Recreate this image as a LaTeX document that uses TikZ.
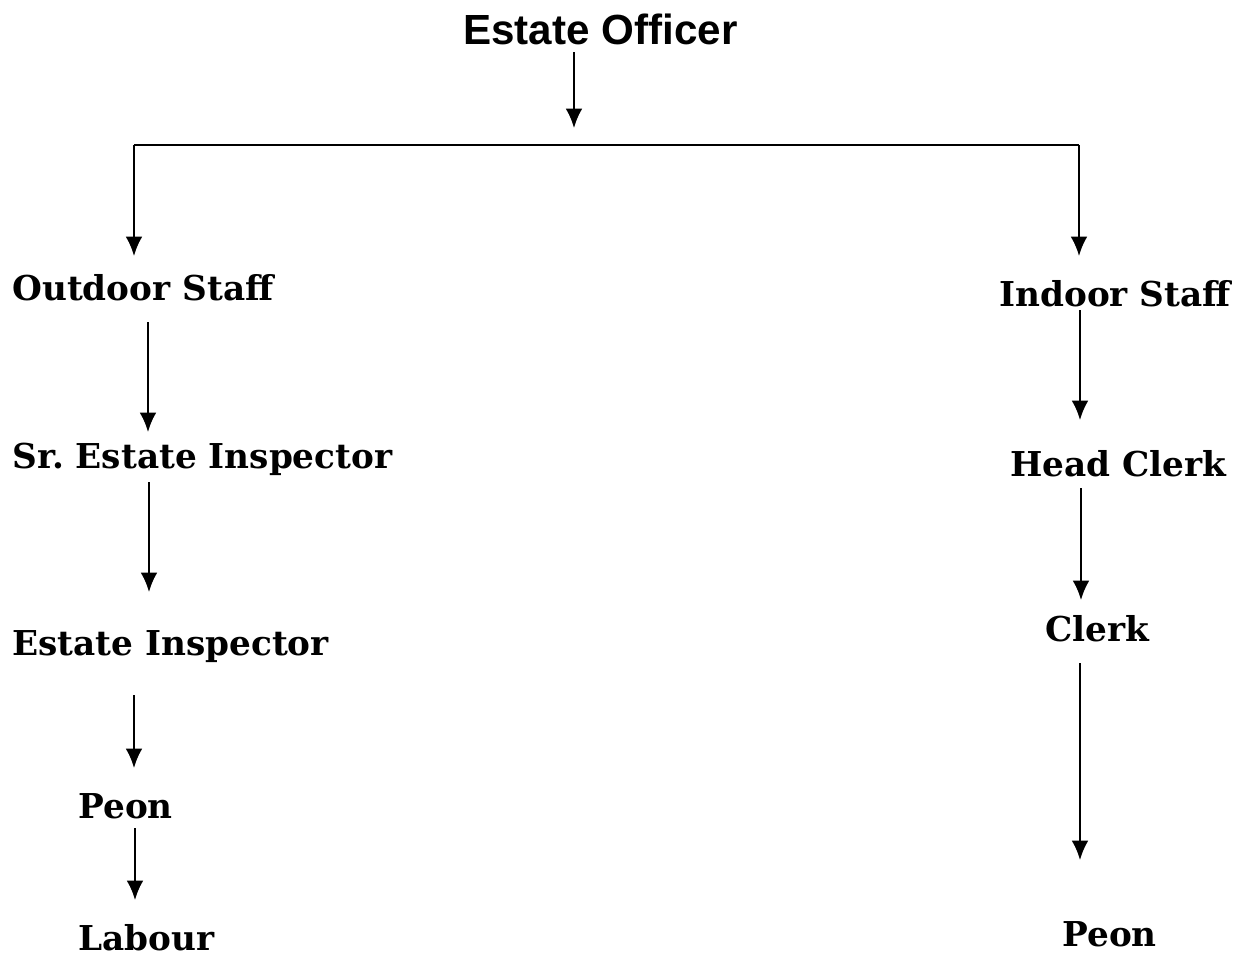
\documentclass[tikz,border=0pt]{standalone}
\usepackage{fontspec}
\setmainfont{DejaVu Serif}
\newfontfamily\headfont{Liberation Sans}
\usetikzlibrary{arrows.meta}
\frenchspacing

\begin{document}
\begin{tikzpicture}[
    x=0.02cm, y=-0.02cm,
    >={Latex[length=11pt, width=9.5pt]},
    post/.style={anchor=base west, inner sep=0pt, font=\bfseries\fontsize{19.5}{22}\selectfont},
    arr/.style={->, line width=1.2pt}
]

    % Frame
    \useasboundingbox (0,0) rectangle (1245,957);

    % 1. Head
    \node[anchor=base west, inner sep=0pt, font=\headfont\bfseries\fontsize{24}{28}\selectfont] (officer) at (463,44) {Estate Officer};
    \coordinate (topA) at (574,52);
    \coordinate (topB) at (574,128);
    \draw[arr] (topA) -- (topB);

    % Branch line
    \coordinate (brL) at (134,145);
    \coordinate (brR) at (1079,145);
    \coordinate (tipL) at (134,256);
    \coordinate (tipR) at (1079,256);
    \draw[line width=1.2pt] (tipL |- brL) -- (brR);
    \draw[arr] (brL) -- (tipL);
    \draw[arr] (brR) -- (tipR);

    % 2. Outdoor side
    \node[post] (outdoor) at (12,300) {Outdoor Staff};
    \node[post] (srinsp) at (12,468) {Sr. Estate Inspector};
    \node[post] (insp) at (12,655) {Estate Inspector};
    \node[post] (peonL) at (78,818) {Peon};
    \node[post] (labour) at (78,950) {Labour};

    % 3. Indoor side
    \node[post] (indoor) at (999,306) {Indoor Staff};
    \node[post] (headclerk) at (1010,476) {Head Clerk};
    \node[post] (clerk) at (1045,641) {Clerk};
    \node[post] (peonR) at (1062,946) {Peon};

    % 4. Arrows down each side
    \foreach \n/\x/\ya/\yb in {oa/148/322/432, ob/149/482/592, oc/134/695/768, od/135/828/900,
                               ia/1080/310/420, ib/1081/488/600, ic/1080/663/860} {
        \coordinate (\n1) at (\x,\ya);
        \coordinate (\n2) at (\x,\yb);
        \draw[arr] (\n1) -- (\n2);
    }

\end{tikzpicture}
\end{document}
